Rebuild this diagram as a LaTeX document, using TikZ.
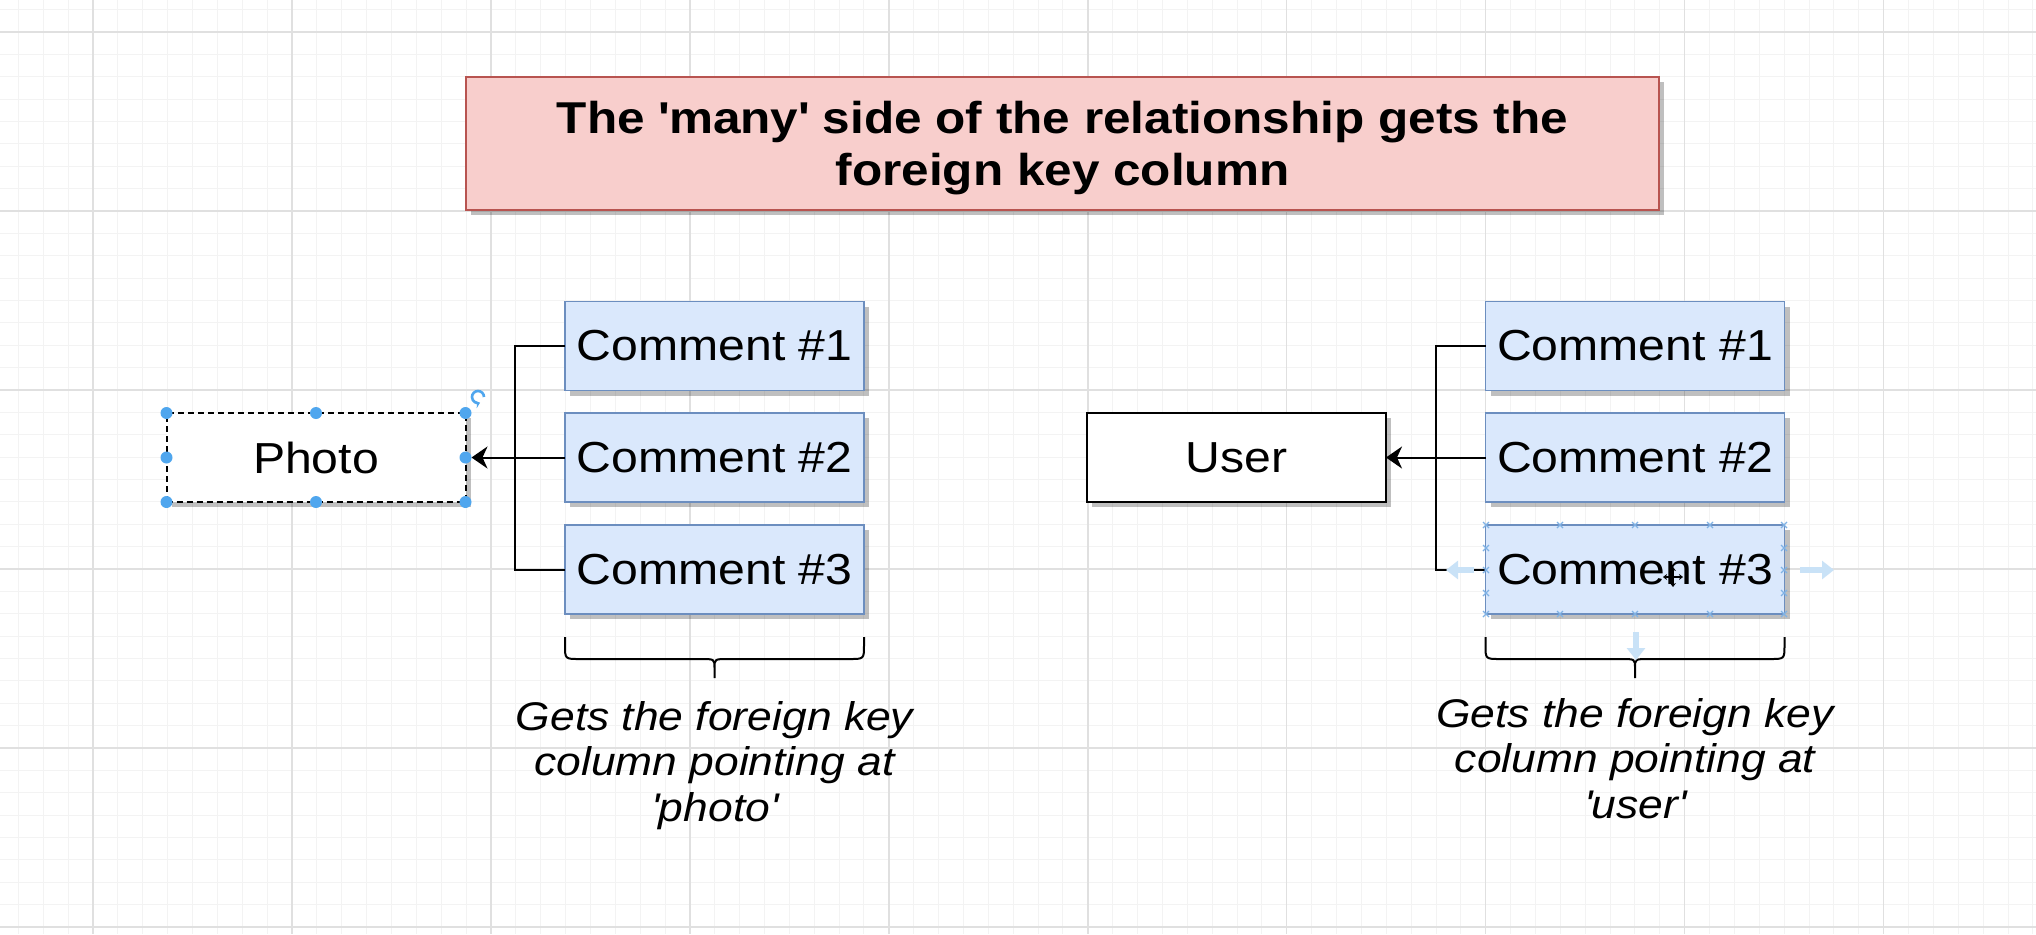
\documentclass[tikz,border=0pt]{standalone}
\usepackage{fontspec}
\setmainfont{Liberation Sans}[FakeStretch=1.11]
\usetikzlibrary{arrows.meta,shadows}
\definecolor{cfill}{HTML}{DAE8FC}
\definecolor{cline}{HTML}{6C8EBF}
\definecolor{tfill}{HTML}{F8CECC}
\definecolor{tline}{HTML}{B85450}
\definecolor{gmin}{HTML}{F3F3F3}
\definecolor{gmaj}{HTML}{E0E0E0}
\definecolor{handlec}{HTML}{4FA6EE}
\definecolor{hoverc}{HTML}{C9E2F7}
\definecolor{xmarkc}{HTML}{7FB2E5}
\begin{document}
\begin{tikzpicture}[x=0.5pt,y=-0.5pt,
  shadowed/.style={drop shadow={shadow xshift=2.5pt,shadow yshift=-2.5pt,opacity=0.25,fill=black}},
  box/.style={rectangle,inner sep=0pt,outer sep=0pt,minimum height=44.5pt,minimum width=149.5pt,line width=1pt,font=\fontsize{21.7}{26}\selectfont},
  cbox/.style={box,draw=cline,line width=0.8pt,fill=cfill,shadowed},
  ebox/.style={box,draw=black,fill=white,shadowed},
  selbox/.style={box,draw=black,fill=white,shadowed,dash pattern=on 3pt off 2pt},
  tbox/.style={rectangle,inner sep=0pt,outer sep=0pt,draw=tline,line width=1pt,fill=tfill,minimum width=596.5pt,minimum height=66.5pt,shadowed},
  titletxt/.style={inner sep=0pt,align=center,font=\bfseries\fontsize{22.3}{26}\selectfont,yshift=-2.5pt},
  captxt/.style={inner sep=0pt,align=center,font=\itshape\fontsize{20}{22.75}\selectfont},
  conn/.style={line width=1pt,black},
  arrowc/.style={conn,-{Stealth[length=8pt,width=11pt,inset=2.5pt]}},
  gridminor/.style={gmin,line width=0.5pt},
  gridmajor/.style={gmaj,line width=0.7pt},
  handle/.style={fill=handlec},
  hoverarrow/.style={hoverc,line width=3pt,-{Triangle[length=6pt,width=9pt]}},
  xmk/.style={xmarkc,line width=0.6pt},
  curly/.pic={
    \draw[conn] (-149.5,0) -- (-149.5,8) .. controls (-149.5,22) .. (-135,22) -- (-14,22)
      .. controls (0,22) .. (0,31) -- (0,41)
      (0,31) .. controls (0,22) .. (14,22) -- (135,22)
      .. controls (149.5,22) .. (149.5,8) -- (149.5,0);
  }
]
\useasboundingbox (0,0) rectangle (2036,934);
\fill[white] (0,0) rectangle (2036,934);
% grid
\foreach \i in {0,...,81} {\pgfmathsetmacro\xx{18.4+\i*24.87}\draw[gridminor] (\xx,0) -- (\xx,934);}
\foreach \i in {0,...,41} {\pgfmathsetmacro\yy{9.6+\i*22.375}\draw[gridminor] (0,\yy) -- (2036,\yy);}
\foreach \i in {3,11,19,27,35,43,51,59,67,75} {\pgfmathsetmacro\xx{18.4+\i*24.87}\draw[gridmajor] (\xx,0) -- (\xx,934);}
\foreach \i in {1,9,17,25,33,41} {\pgfmathsetmacro\yy{9.6+\i*22.375}\draw[gridmajor] (0,\yy) -- (2036,\yy);}

% title
\node[tbox,label={[titletxt]center:{The \textquotesingle many\textquotesingle{} side of the relationship gets the\\foreign key column}}] (title) at (1062.5,143.5) {};

% left group
\node[cbox] (lc1) at (714.5,346) {Comment \#1};
\node[cbox] (lc2) at (714.5,457.5) {Comment \#2};
\node[cbox] (lc3) at (714.5,569.5) {Comment \#3};
\node[selbox] (photo) at (316,457.5) {Photo};
\coordinate (lj) at (515,457.5);
\draw[conn] (lc1.west) -| (lj) |- (lc3.west);
\draw[arrowc,shorten >=3pt] (lc2.west) -- (photo.east);
\pic at (714.5,637) {curly};
\node[captxt,anchor=north] (lcap) at (714.5,701) {Gets the foreign key\\column pointing at\\\textquotesingle photo\textquotesingle};

% right group
\node[cbox] (rc1) at (1635,346) {Comment \#1};
\node[cbox] (rc2) at (1635,457.5) {Comment \#2};
\node[cbox] (rc3) at (1635,569.5) {Comment \#3};
\node[ebox] (user) at (1236.5,457.5) {User};
\coordinate (rj) at (1435.5,457.5);
\draw[conn] (rc1.west) -| (rj) |- (rc3.west);
\draw[arrowc] (rc2.west) -- (user.east);
\pic at (1635,637) {curly};
\node[captxt,anchor=north] (rcap) at (1635,698) {Gets the foreign key\\column pointing at\\\textquotesingle user\textquotesingle};

% selection handles on Photo
\foreach \a in {north west,north,north east,west,east,south west,south,south east}
  \fill[handle] (photo.\a) circle (3pt);
\draw[handlec,line width=1.3pt,-{Stealth[length=2.5pt,width=4pt]}] (484,397) arc[start angle=0,end angle=290,radius=3pt];

% hover marks on right Comment #3
\foreach \x in {1486,1560,1635,1710,1784} {
  \draw[xmk] (\x-3,522) -- (\x+3,528) (\x-3,528) -- (\x+3,522);
  \draw[xmk] (\x-3,611) -- (\x+3,617) (\x-3,617) -- (\x+3,611);
}
\foreach \y in {548,570,593} {
  \draw[xmk] (1483,\y-3) -- (1489,\y+3) (1483,\y+3) -- (1489,\y-3);
  \draw[xmk] (1781,\y-3) -- (1787,\y+3) (1781,\y+3) -- (1787,\y-3);
}
\draw[hoverarrow] (1474,570) -- (1446,570);
\draw[hoverarrow] (1800,570) -- (1834,570);
\draw[hoverarrow] (1636,632) -- (1636,660);
% move cursor
\begin{scope}[line width=0.7pt,-{Stealth[length=2pt,width=3pt]}]
\draw (1673,577) -- (1673,567);
\draw (1673,577) -- (1673,587);
\draw (1673,577) -- (1663,577);
\draw (1673,577) -- (1683,577);
\end{scope}
\end{tikzpicture}
\end{document}
